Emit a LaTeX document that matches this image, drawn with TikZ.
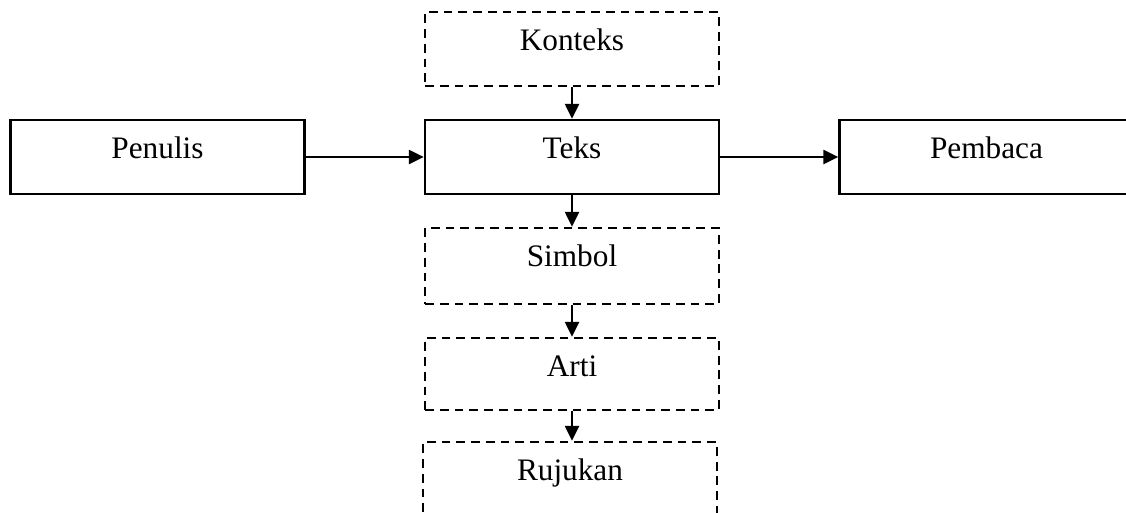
\documentclass[tikz,border=0pt]{standalone}
\usepackage{fontspec}
\setmainfont{Liberation Serif}
\usetikzlibrary{arrows.meta}
\tikzset{box/.style={draw=black,line width=1.4pt,inner sep=0pt,minimum width=5.88cm,
 text height=0.76cm,text depth=0.72cm,font=\fontsize{17.8}{20}\selectfont},
 dbox/.style={box,dash pattern=on 5pt off 3.4pt},
 arr/.style={-{Triangle[length=0.3cm,width=0.28cm]},line width=1.4pt}}
\begin{document}
\begin{tikzpicture}[x=0.02cm,y=-0.02cm]
\useasboundingbox (0,0) rectangle (1126,512);
\clip (0,0) rectangle (1126,512);
\node[dbox] (konteks) at (572,49) {Konteks};
\node[box] (teks) at (572,157) {Teks};
\node[box] (penulis) at (157.5,157) {Penulis};
\node[box] (pembaca) at (986.5,157) {Pembaca};
\node[dbox,text depth=0.76cm] (simbol) at (572,266) {Simbol};
\node[dbox,text depth=0.68cm] (arti) at (572,374) {Arti};
\node[dbox] (rujukan) at (570,479) {Rujukan};
\draw[arr] (konteks.south)--(teks.north);
\draw[arr] (penulis.east)--(teks.west);
\draw[arr] (teks.east)--(pembaca.west);
\draw[arr] (teks.south)--(simbol.north);
\draw[arr] (simbol.south)--(arti.north);
\draw[arr] (arti.south)--(arti.south|-rujukan.north);
\end{tikzpicture}
\end{document}
